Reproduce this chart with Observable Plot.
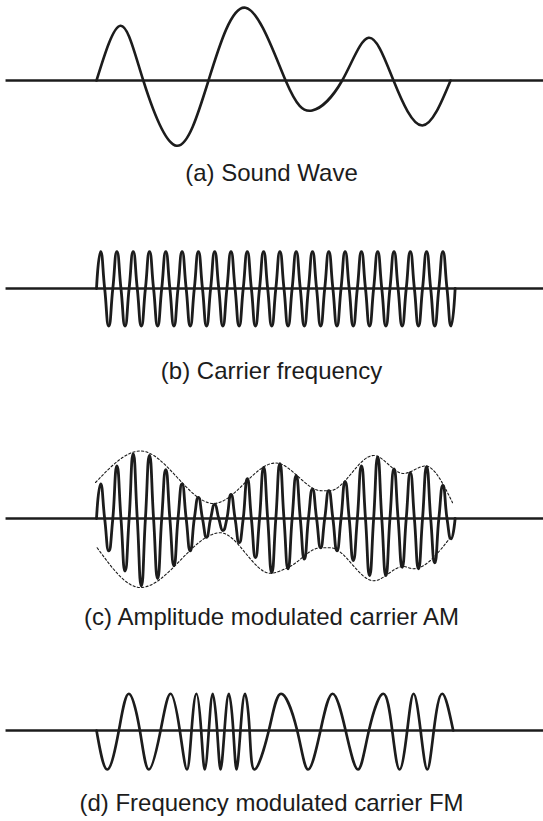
<!DOCTYPE html>
<html><head><meta charset="utf-8">
<script src="https://cdn.jsdelivr.net/npm/d3@7"></script>
<script src="https://cdn.jsdelivr.net/npm/@observablehq/plot@0.6"></script>
<style>
html,body{margin:0;padding:0;background:#fff;}
#fig{position:relative;width:543px;height:821px;overflow:hidden;background:#fff;}
.panel{position:absolute;left:0;}
.cap{position:absolute;left:0;width:543px;text-align:center;font-family:"Liberation Sans",Arial,Helvetica,sans-serif;font-size:24px;line-height:24px;color:#1c1c1c;white-space:nowrap;}
</style></head><body><div id="fig"></div>
<script>
// ---------- DATA (time in ms, amplitude in arbitrary units) ----------
const captions = [
  "(a) Sound Wave",
  "(b) Carrier frequency",
  "(c) Amplitude modulated carrier AM",
  "(d) Frequency modulated carrier FM"
];

// (a) sound wave: zero crossings and extrema
const soundT = [0, 1.47, 2.87, 4.91, 6.87, 9.14, 11.6, 13.23, 15.07, 16.69, 18.22, 19.98, 21.72];
const soundA = [0, 0.73, 0, -0.87, 0, 0.97, 0, -0.40, 0, 0.57, 0, -0.60, 0];

// (b) carrier: start of each 1 ms cycle, constant amplitude
const carrierCycles = [0,1,2,3,4,5,6,7,8,9,10,11,12,13,14,15,16,17,18,19,20,21];
const carrierPeak = [0.49,0.49,0.49,0.49,0.49,0.49,0.49,0.49,0.49,0.49,0.49,0.49,0.49,0.49,0.49,0.49,0.49,0.49,0.49,0.49,0.49,0.49];
const carrierTrough = [0.50,0.50,0.50,0.50,0.50,0.50,0.50,0.50,0.50,0.50,0.50,0.50,0.50,0.50,0.50,0.50,0.50,0.50,0.50,0.50,0.50,0.50];

// (c) AM: peak and trough amplitude of each carrier cycle
const amPeak   = [0.46,0.70,0.86,0.84,0.65,0.46,0.28,0.19,0.32,0.53,0.68,0.73,0.57,0.39,0.37,0.49,0.70,0.82,0.66,0.61,0.69,0.44];
const amTrough = [0.43,0.70,0.90,0.80,0.63,0.43,0.25,0.16,0.32,0.52,0.72,0.67,0.54,0.39,0.43,0.56,0.76,0.76,0.65,0.67,0.59,0.27];
// (c) dashed envelope
const envUpperT = [-0.06, 2.7, 7.18, 10.98, 13.8, 14.3, 17.0, 18.83, 20.18, 21.84];
const envUpperA = [0.48, 0.90, 0.20, 0.74, 0.37, 0.37, 0.84, 0.60, 0.70, 0.21];
const envLowerT = [0.04, 2.7, 7.6, 10.67, 11.78, 13.74, 14.35, 17.0, 18.83, 19.45, 21.72];
const envLowerA = [-0.39, -0.92, -0.19, -0.73, -0.65, -0.39, -0.39, -0.83, -0.64, -0.67, -0.25];

// (d) FM: zero crossings and extrema
const fmT = [0, 0.66, 1.37, 1.98, 2.66, 3.21, 3.93, 4.54, 5.11, 5.55, 5.83, 6.13, 6.42, 6.64, 6.89, 7.13, 7.40, 7.61, 7.85, 8.12, 8.39, 8.59, 8.83, 9.11, 9.39, 9.69, 10.57, 11.32, 12.31, 12.98, 13.74, 14.48, 15.28, 16.04, 16.71, 17.59, 18.14, 18.59, 19.06, 19.45, 19.88, 20.29, 20.69, 21.21, 21.88];
const fmA = [0, -0.52, 0, 0.49, 0, -0.52, 0, 0.49, 0, -0.52, 0, 0.49, 0, -0.52, 0, 0.49, 0, -0.52, 0, 0.49, 0, -0.52, 0, 0.49, 0, -0.52, 0, 0.49, 0, -0.52, 0, 0.49, 0, -0.52, 0, 0.49, 0, -0.52, 0, 0.49, 0, -0.52, 0, 0.49, 0];

// horizontal axis line extent (ms)
const axisExtent = [-5.55, 27.6];

// ---------- LAYOUT ----------
const W = 543;
const PX = 75;                 // px per amplitude unit
const xDomain = [-5.89, 27.42];
const INK = "#1c1c1c";
const layout = [
  {top: 0,     half: 80, capTop: 161},
  {top: 238.3, half: 50, capTop: 359},
  {top: 437.7, half: 80, capTop: 605},
  {top: 679.5, half: 50, capTop: 791}
];

function zip(T, A) { return T.map((t, i) => ({t, a: A[i]})); }
function cycleNodes(cycles, peaks, troughs) {
  const out = [];
  cycles.forEach((c, i) => {
    out.push({t: c, a: 0}, {t: c + 0.25, a: peaks[i]}, {t: c + 0.5, a: 0}, {t: c + 0.75, a: -troughs[i]});
  });
  out.push({t: cycles[cycles.length - 1] + 1, a: 0});
  return out;
}

function panel(half, marks) {
  return Plot.plot({
    width: W, height: 2 * half, margin: 0,
    style: {background: "transparent", overflow: "visible"},
    x: {domain: xDomain, axis: null},
    y: {domain: [-half / PX, half / PX], axis: null},
    marks: [
      Plot.ruleY([{y: 0, x1: axisExtent[0], x2: axisExtent[1]}], {y: "y", x1: "x1", x2: "x2", stroke: INK, strokeWidth: 2.7}),
      ...marks
    ]
  });
}

const roundWave = d3.curveCardinal.tension(-0.6);
const waveStyle = {x: "t", y: "a", curve: "natural", stroke: INK, strokeWidth: 2.6, strokeLinejoin: "round", strokeLinecap: "round"};
const fastStyle = {...waveStyle, curve: roundWave, strokeWidth: 2.8};
const envStyle = {x: "t", y: "a", curve: "monotone-x", stroke: INK, strokeWidth: 1.1, strokeDasharray: "2.2,2.2"};

const plots = [
  panel(layout[0].half, [Plot.line(zip(soundT, soundA), waveStyle)]),
  panel(layout[1].half, [Plot.line(cycleNodes(carrierCycles, carrierPeak, carrierTrough), fastStyle)]),
  panel(layout[2].half, [
    Plot.line(zip(envUpperT, envUpperA), envStyle),
    Plot.line(zip(envLowerT, envLowerA), envStyle),
    Plot.line(cycleNodes(carrierCycles, amPeak, amTrough), fastStyle)
  ]),
  panel(layout[3].half, [Plot.line(zip(fmT, fmA), {...waveStyle, strokeWidth: 2.7})])
];

const fig = document.getElementById("fig");
plots.forEach((p, i) => {
  p.classList.add("panel");
  p.style.position = "absolute";
  p.style.top = layout[i].top + "px";
  p.style.left = "0px";
  fig.appendChild(p);
  const cap = document.createElement("div");
  cap.className = "cap";
  cap.style.top = layout[i].capTop + "px";
  cap.textContent = captions[i];
  fig.appendChild(cap);
});
</script></body></html>
